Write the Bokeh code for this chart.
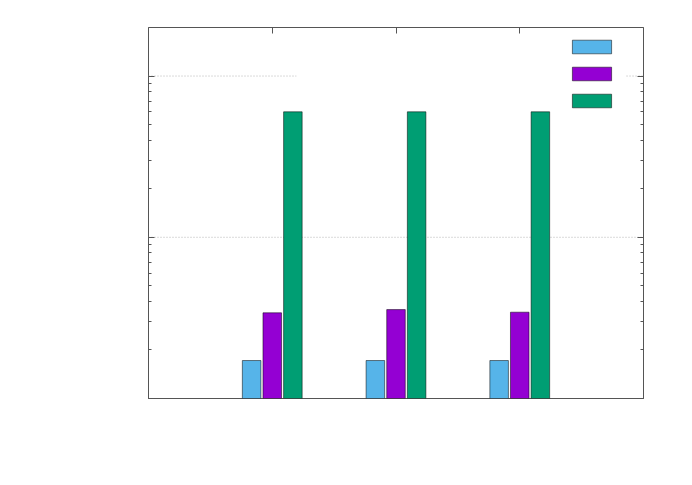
from bokeh.plotting import figure
from bokeh.models import (Range1d, LogAxis, LinearAxis, LogTicker, FixedTicker,
                          CustomJSTickFormatter, Legend, LegendItem, ColumnDataSource)
from bokeh.embed import file_html
from bokeh.resources import INLINE

# ---- data ----
groups = [0, 1, 2]
series_names = [" ", " ", " "]
series_a = [1.72, 1.72, 1.72]      # light blue
series_b = [3.40, 3.56, 3.43]      # purple
series_c = [60.0, 60.0, 60.0]      # green
colors = ["#56b4e9", "#9400d3", "#009e73"]
grid_levels = [10, 100]

bar_w = 0.15
offset = 1.0 / 6.0
border_col = "#555555"

p = figure(width=670, height=460, x_range=Range1d(-1, 3), y_range=Range1d(1, 200),
           y_axis_type="log", output_backend="svg", toolbar_location=None,
           min_border_left=148, min_border_right=27, min_border_top=27,
           min_border_bottom=62)
p.background_fill_color = "white"
p.border_fill_color = "white"
p.outline_line_color = border_col
p.outline_line_width = 1
p.xgrid.visible = False
p.ygrid.visible = False

# dotted grid lines (the upper one interrupted by the key area)
gx0 = [-1, -1, 2.863]
gx1 = [3, 0.194, 3]
gy = [grid_levels[0], grid_levels[1], grid_levels[1]]
p.segment(x0=gx0, x1=gx1, y0=gy, y1=gy, line_color="#b4b4b4",
          line_dash="1 2", line_width=1, level="underlay")

renderers = []
for vals, off, col in zip([series_a, series_b, series_c], [-offset, 0, offset], colors):
    src = ColumnDataSource(dict(x=[g + off for g in groups], top=vals))
    r = p.vbar(x="x", top="top", bottom=1, width=bar_w, source=src,
               fill_color=col, line_color="black", line_alpha=0.5, line_width=1)
    renderers.append(r)

empty = CustomJSTickFormatter(code="return ''")

# left log axis
ya = p.yaxis[0]
ya.ticker = LogTicker(num_minor_ticks=10)
ya.formatter = empty
ya.axis_line_color = None
ya.major_tick_in = 6
ya.major_tick_out = 0
ya.minor_tick_in = 3
ya.minor_tick_out = 0
ya.major_tick_line_color = border_col
ya.minor_tick_line_color = border_col
ya.major_label_text_font_size = "0px"
ya.major_label_standoff = 0

# right mirror axis
ra = LogAxis(ticker=LogTicker(num_minor_ticks=10), formatter=empty,
             axis_line_color=None, major_tick_in=6, major_tick_out=0,
             minor_tick_in=3, minor_tick_out=0,
             major_tick_line_color=border_col, minor_tick_line_color=border_col,
             major_label_text_font_size="0px", major_label_standoff=0)
p.add_layout(ra, "right")

# bottom axis hidden (ticks covered by bars)
p.xaxis[0].visible = False

# top axis with inward ticks at group centres
ta = LinearAxis(ticker=FixedTicker(ticks=groups, minor_ticks=[]), formatter=empty,
                axis_line_color=None, major_tick_in=6, major_tick_out=0,
                minor_tick_in=0, minor_tick_out=0,
                major_tick_line_color=border_col,
                major_label_text_font_size="0px", major_label_standoff=0)
p.add_layout(ta, "above")

legend = Legend(items=[LegendItem(label=n, renderers=[r]) for n, r in zip(series_names, renderers)],
                location=(419, 289), padding=0, margin=0, spacing=10,
                glyph_width=49, glyph_height=17, label_height=17, label_width=0,
                label_standoff=0, border_line_alpha=0, background_fill_alpha=0,
                label_text_font_size="1px")
p.add_layout(legend, "center")

open("out.html", "w").write(file_html(p, INLINE))
